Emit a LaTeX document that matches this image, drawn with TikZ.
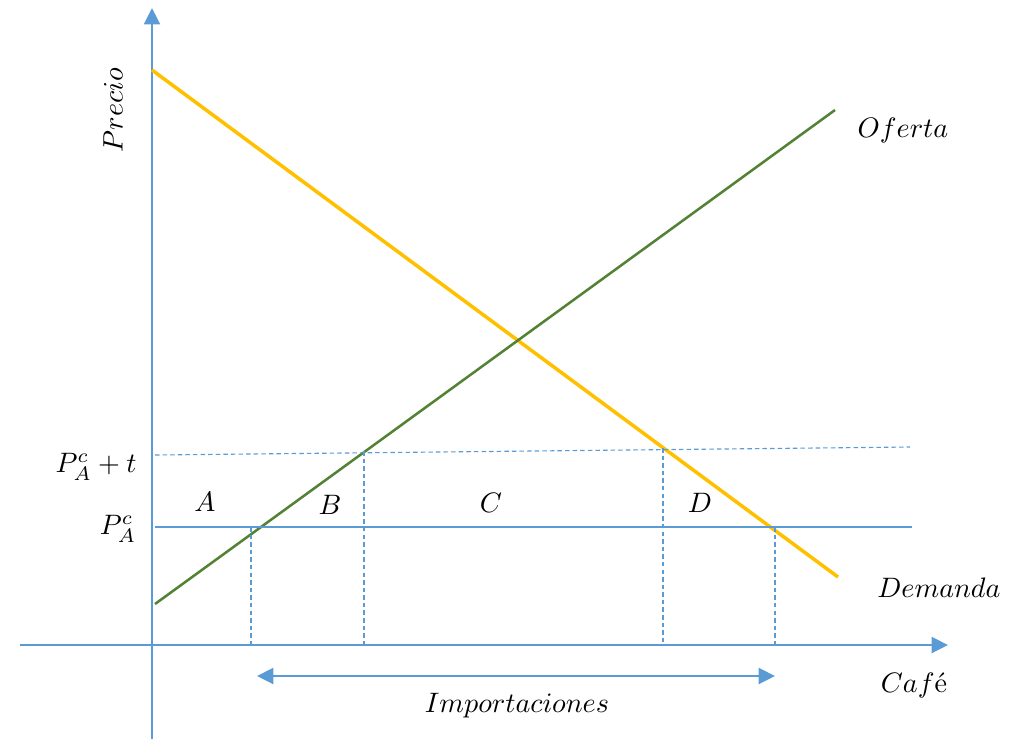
\documentclass[tikz,border=0pt]{standalone}
\usetikzlibrary{arrows.meta}

\definecolor{ejeazul}{RGB}{91,155,213}
\definecolor{amarillo}{RGB}{255,192,0}
\definecolor{verde}{RGB}{84,130,53}

\begin{document}
\begin{tikzpicture}[
    x=0.0125cm, y=-0.0125cm,
    >={Triangle[width=5.6pt, length=5.8pt]},
    eje/.style={draw=ejeazul, line width=1pt, ->},
    demanda/.style={draw=amarillo, line width=1.25pt},
    oferta/.style={draw=verde, line width=0.9pt},
    precio/.style={draw=ejeazul, line width=0.4pt},
    guia/.style={draw=ejeazul, line width=0.4pt, dash pattern=on 1.6pt off 1.1pt},
    etiqueta/.style={inner sep=0.5pt, font=\normalsize}
]
    \useasboundingbox (0,0) rectangle (1026,739);

    % EJES
    \coordinate (Y0) at (152,739);
    \coordinate (Y1) at (152,8);
    \coordinate (X0) at (20,645);
    \coordinate (X1) at (948,645);
    \draw[eje] (Y0) -- (Y1);
    \draw[eje] (X0) -- (X1);

    % CURVAS DE OFERTA Y DEMANDA
    \coordinate (D0) at (152,70);
    \coordinate (D1) at (838,577);
    \coordinate (S0) at (155,604);
    \coordinate (S1) at (835,110);
    \draw[demanda] (D0) -- (D1);
    \draw[oferta] (S0) -- (S1);

    % PRECIOS
    \coordinate (PA0) at (155,527);
    \coordinate (PA1) at (912,527);
    \coordinate (PT0) at (155,455);
    \coordinate (PT1) at (910,447);
    \draw[precio] (PA0) -- (PA1);
    \draw[guia] (PT0) -- (PT1);

    % CANTIDADES
    \foreach \nombre/\x/\y in {Q1/251/527, Q2/364/451, Q3/663/448, Q4/775/527}{
        \coordinate (\nombre a) at (\x,\y);
        \coordinate (\nombre b) at (\x,645);
        \draw[guia] (\nombre a) -- (\nombre b);
    }

    % IMPORTACIONES
    \coordinate (I0) at (257,676);
    \coordinate (I1) at (775,676);
    \draw[draw=ejeazul, line width=1pt, <->] (I0) -- (I1);

    % ETIQUETAS
    \node[etiqueta, rotate=90] (precio) at (113,110) {$Precio$};
    \node[etiqueta] (lofe) at (903,130) {$Oferta$};
    \node[etiqueta] (ldem) at (939,588) {$Demanda$};
    \node[etiqueta] (lcafe) at (914,685) {$Caf$\'e};
    \node[etiqueta] (limp) at (517,706) {$Importaciones$};
    \node[etiqueta] (pt) at (96,467) {$P_A^c + t$};
    \node[etiqueta] (pa) at (118,529) {$P_A^c$};
    \node[etiqueta] (areaA) at (205,502) {$A$};
    \node[etiqueta] (areaB) at (330,505) {$B$};
    \node[etiqueta] (areaC) at (491,503) {$C$};
    \node[etiqueta] (areaD) at (700,503) {$D$};

\end{tikzpicture}
\end{document}
